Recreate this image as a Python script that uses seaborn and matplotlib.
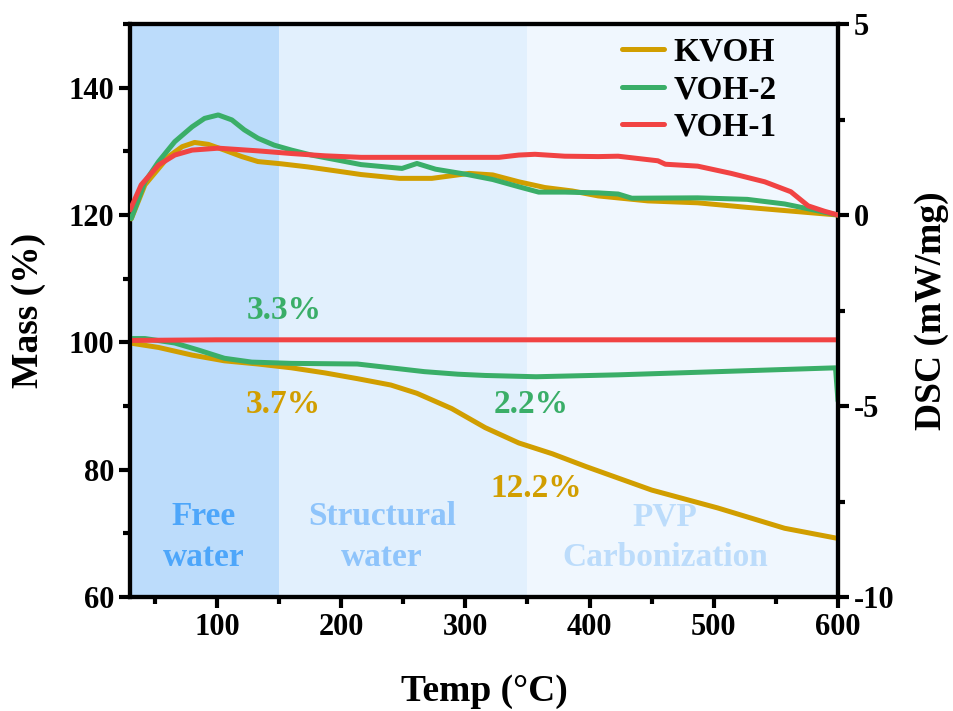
import numpy as np
import pandas as pd
import matplotlib
matplotlib.use("Agg")
import matplotlib.pyplot as plt
from matplotlib.ticker import MultipleLocator
import seaborn as sns

# ---- TGA (mass %) ----
kvoh_mass_t = [30, 53, 80, 106, 133, 160, 187, 213, 240, 261, 289, 316, 343, 370, 397, 450, 503, 557, 600]
kvoh_mass = [99.9, 99.2, 98.0, 97.1, 96.6, 96.0, 95.2, 94.3, 93.3, 92.0, 89.6, 86.6, 84.2, 82.5, 80.5, 76.8, 74.0, 70.8, 69.2]

voh2_mass_t = [30, 42, 66, 85, 106, 128, 160, 213, 240, 267, 294, 316, 357, 423, 503, 598, 600]
voh2_mass = [100.6, 100.6, 99.9, 98.8, 97.5, 96.9, 96.7, 96.6, 96.0, 95.4, 95.0, 94.8, 94.6, 94.9, 95.4, 96.0, 90.8]

voh1_mass_t = [30, 100, 200, 300, 400, 500, 600]
voh1_mass = [100.3, 100.4, 100.4, 100.4, 100.4, 100.4, 100.4]

# ---- DSC (mW/mg) ----
kvoh_dsc_t = [31, 42, 61, 72, 82, 93, 106, 120, 133, 152, 173, 197, 216, 247, 273, 303, 322,
              343, 364, 386, 407, 447, 487, 527, 567, 600]
kvoh_dsc = [-0.1, 0.79, 1.53, 1.79, 1.90, 1.85, 1.70, 1.53, 1.40, 1.34, 1.26, 1.15, 1.06, 0.96, 0.96,
            1.09, 1.05, 0.87, 0.72, 0.63, 0.50, 0.37, 0.32, 0.20, 0.09, 0.0]

voh2_dsc_t = [31, 42, 53, 66, 80, 90, 101, 112, 122, 133, 146, 160, 176, 197, 216, 249, 261, 276,
              300, 322, 343, 359, 380, 407, 423, 434, 487, 527, 557, 578, 600]
voh2_dsc = [-0.09, 0.87, 1.40, 1.92, 2.31, 2.53, 2.62, 2.49, 2.23, 2.01, 1.83, 1.70, 1.57, 1.44, 1.32,
            1.22, 1.35, 1.20, 1.07, 0.93, 0.74, 0.60, 0.60, 0.58, 0.55, 0.44, 0.45, 0.41, 0.29, 0.15, 0.0]

voh1_dsc_t = [30, 39, 53, 66, 80, 101, 133, 160, 187, 216, 268, 327, 343, 356, 380, 407, 423, 455,
              461, 487, 514, 541, 562, 576, 589, 600]
voh1_dsc = [0.13, 0.79, 1.31, 1.57, 1.70, 1.75, 1.68, 1.61, 1.55, 1.51, 1.51, 1.51, 1.57, 1.59, 1.54,
            1.53, 1.54, 1.42, 1.33, 1.28, 1.09, 0.87, 0.61, 0.24, 0.10, 0.0]

samples = ["KVOH", "VOH-2", "VOH-1"]
colors = {"KVOH": "#D19E00", "VOH-2": "#3AAE68", "VOH-1": "#F14343"}

# Temperature regions and their labels
regions = [(30, 150, "#BCDCFB"), (150, 350, "#E2F0FD"), (350, 600, "#F0F7FE")]
region_labels = [(89, "Free\nwater", "#4DA6FA"), (233, "Structural\nwater", "#8EC4FB"),
                 (461, "PVP\nCarbonization", "#BCDCFB")]

# Mass-loss annotations
loss_labels = [(154, 105.0, "3.3%", "VOH-2"), (153, 90.3, "3.7%", "KVOH"),
               (353, 90.3, "2.2%", "VOH-2"), (357, 77.0, "12.2%", "KVOH")]


def frame(t, v, name):
    return pd.DataFrame({"Temp": t, "Value": v, "Sample": name})


mass_df = pd.concat([frame(kvoh_mass_t, kvoh_mass, "KVOH"),
                     frame(voh2_mass_t, voh2_mass, "VOH-2"),
                     frame(voh1_mass_t, voh1_mass, "VOH-1")])
dsc_df = pd.concat([frame(kvoh_dsc_t, kvoh_dsc, "KVOH"),
                    frame(voh2_dsc_t, voh2_dsc, "VOH-2"),
                    frame(voh1_dsc_t, voh1_dsc, "VOH-1")])

sns.set_theme(style="ticks")
plt.rcParams["font.family"] = ["Liberation Serif", "DejaVu Serif"]
plt.rcParams["font.weight"] = "bold"
plt.rcParams["axes.labelweight"] = "bold"
plt.rcParams["axes.unicode_minus"] = False
for key in ("text.color", "axes.labelcolor", "xtick.color", "ytick.color", "axes.edgecolor"):
    plt.rcParams[key] = "black"

fig = plt.figure(figsize=(9.54, 7.11), dpi=100)
ax = fig.add_axes([0.1363, 0.1603, 0.8784 - 0.1363, 0.9662 - 0.1603])

for x0, x1, c in regions:
    ax.axvspan(x0, x1, color=c, lw=0, zorder=0)

sns.lineplot(data=mass_df, x="Temp", y="Value", hue="Sample", hue_order=samples,
             palette=colors, lw=3.6, sort=False, ax=ax, legend=False, zorder=3)

ax2 = ax.twinx()
sns.lineplot(data=dsc_df, x="Temp", y="Value", hue="Sample", hue_order=samples,
             palette=colors, lw=3.6, sort=False, ax=ax2, zorder=3)

ax.set_xlim(30, 600)
ax.set_ylim(60, 150)
ax2.set_ylim(-10, 5)

ax.xaxis.set_major_locator(MultipleLocator(100))
ax.xaxis.set_minor_locator(MultipleLocator(50))
ax.yaxis.set_major_locator(MultipleLocator(20))
ax.yaxis.set_minor_locator(MultipleLocator(10))
ax2.yaxis.set_major_locator(MultipleLocator(5))
ax2.yaxis.set_minor_locator(MultipleLocator(2.5))

for a in (ax, ax2):
    for s in a.spines.values():
        s.set_linewidth(3.0)
        s.set_color("black")
    a.tick_params(which="major", direction="out", length=8, width=3, labelsize=22, colors="black")
    a.tick_params(which="minor", direction="out", length=5, width=3)
ax.set_yticks([60, 80, 100, 120, 140])
ax.set_xticks([100, 200, 300, 400, 500, 600])
for lab in ax.get_xticklabels() + ax.get_yticklabels() + ax2.get_yticklabels():
    lab.set_fontweight("bold")

ax.set_xlabel("Temp (°C)", fontsize=27, fontweight="bold", labelpad=23)
ax.set_ylabel("Mass (%)", fontsize=27, fontweight="bold", labelpad=16)
ax2.set_ylabel("DSC (mW/mg)", fontsize=27, fontweight="bold", labelpad=14)

for x, text, c in region_labels:
    ax.text(x, 69.4, text, ha="center", va="center", color=c, fontsize=24,
            fontweight="bold", linespacing=1.4, zorder=2)

for x, y, text, s in loss_labels:
    ax.text(x, y, text, ha="center", va="center", color=colors[s], fontsize=24,
            fontweight="bold", zorder=4)

leg = ax2.legend(loc="upper left", bbox_to_anchor=(0.695, 0.978), frameon=False,
                 fontsize=24, handlelength=1.25, handletextpad=0.3, labelspacing=0.2,
                 borderpad=0, borderaxespad=0)
for t in leg.get_texts():
    t.set_fontweight("bold")
for h in leg.get_lines():
    h.set_linewidth(3.6)
    h.set_solid_capstyle("round")

fig.savefig("out.png", dpi=100)
